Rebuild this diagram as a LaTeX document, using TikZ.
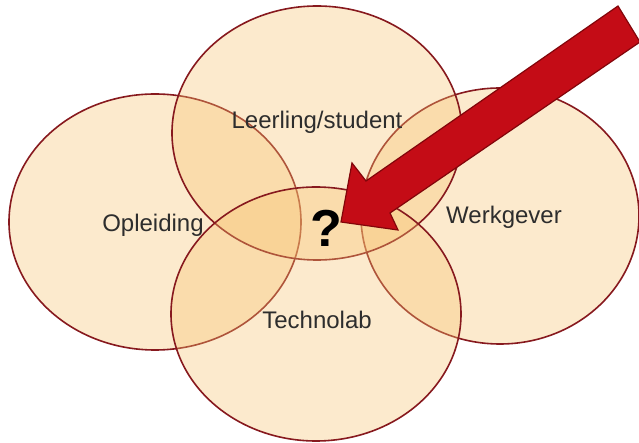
\documentclass[tikz,border=0pt]{standalone}
\usepackage{fontspec}
\setmainfont{Liberation Sans}
\definecolor{petal}{RGB}{249,195,112}
\definecolor{rim}{RGB}{135,25,30}
\definecolor{arrowred}{RGB}{196,12,22}
\definecolor{arrowrim}{RGB}{130,5,10}
\definecolor{txt}{RGB}{45,45,45}
\begin{document}
\begin{tikzpicture}[x=0.5pt,y=-0.5pt,
  petalshape/.style={fill=petal,fill opacity=0.35,draw=rim,draw opacity=1,line width=0.8pt},
  lbl/.style={text=txt,font=\fontsize{12}{14}\selectfont,inner sep=0pt}]
\useasboundingbox (0,0) rectangle (639,443);
\fill[white] (0,0) rectangle (639,443);
% ellipses
\draw[petalshape] (155,222) ellipse [x radius=73pt,y radius=64pt];
\draw[petalshape] (500,216) ellipse [x radius=69.5pt,y radius=64pt];
\draw[petalshape] (317,133) ellipse [x radius=72.5pt,y radius=63.5pt];
\draw[petalshape] (316,314) ellipse [x radius=72.5pt,y radius=63.5pt];
% labels
\node[lbl] (opl) at (153,225) {Opleiding};
\node[lbl] (leer) at (317,122) {Leerling/student};
\node[lbl] (werk) at (504,217) {Werkgever};
\node[lbl] (tech) at (317,320) {Technolab};
\node[text=black,font=\fontsize{26}{30}\selectfont\bfseries,inner sep=0pt] (q) at (326,228) {?};
% arrow
\coordinate (tip) at (341,222);
\filldraw[fill=arrowred,draw=arrowrim,line width=0.6pt]
  (618,6) -- (640,42) -- (390,213) -- (398,230) -- (tip) -- (352,163) -- (366,181) -- cycle;
\end{tikzpicture}
\end{document}
